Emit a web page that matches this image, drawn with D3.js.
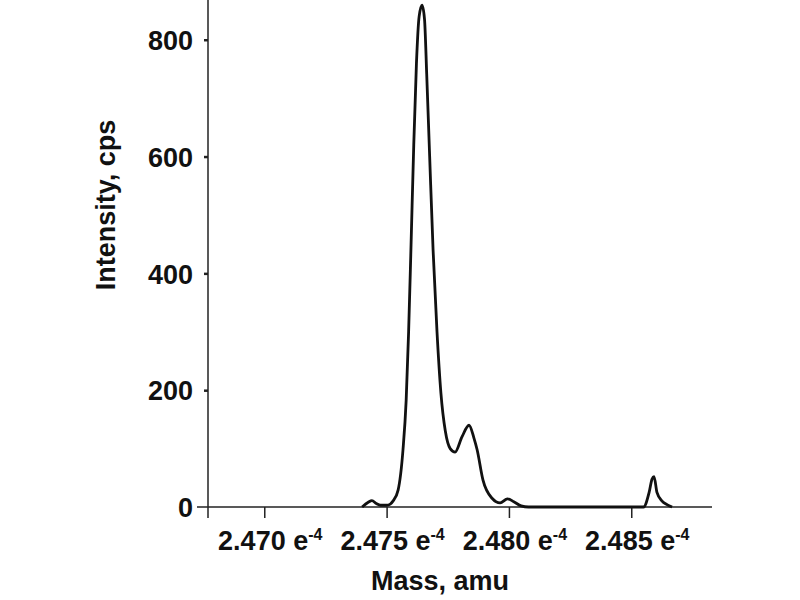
<!DOCTYPE html>
<html>
<head>
<meta charset="utf-8">
<script src="https://cdn.jsdelivr.net/npm/d3@7"></script>
<style>
  body { margin: 0; background: #fff; }
  text { font-family: "Liberation Sans", Arial, sans-serif; font-weight: bold; fill: #111; }
</style>
</head>
<body>
<div id="canvas"></div>
<script>
// mass values in units of e-4 amu, intensity in cps
var mass = [2.4740, 2.47425, 2.47440, 2.47458, 2.47475, 2.47500, 2.47515, 2.47526,
  2.47547, 2.47567, 2.47580, 2.47590, 2.47600, 2.47611, 2.47622, 2.47633, 2.47645,
  2.47655, 2.47664, 2.47676, 2.47690, 2.47706, 2.47722, 2.47740, 2.47760, 2.47780,
  2.47808, 2.47837, 2.47857, 2.47870, 2.47894, 2.47931, 2.47964, 2.47994, 2.48020,
  2.48050, 2.48080, 2.48550, 2.48573, 2.48585, 2.48593, 2.48605, 2.48626, 2.48646,
  2.48667];
var intensity = [0, 8, 11, 6, 3, 3, 5, 10,
  29, 98, 183, 300, 450, 620, 760, 840, 859,
  835, 740, 600, 440, 300, 195, 130, 100, 94,
  120, 140, 118, 98, 46, 15, 7, 14, 9,
  2, 0, 0, 25, 48, 52, 25, 10, 4,
  0];
var xTicks = [2.470, 2.475, 2.480, 2.485];
var yTicks = [0, 200, 400, 600, 800];

var w = 800, h = 600;
var paper = d3.select("#canvas").append("svg")
  .attr("width", w).attr("height", h);

var x = d3.scaleLinear().domain([2.4677, 2.4883]).range([208, 712]);
var y = d3.scaleLinear().domain([0, 868]).range([507, 0]);

var points = mass.map(function (m, i) { return [m, intensity[i]]; });

// axes lines
paper.append("line")
  .attr("x1", 197).attr("x2", x.range()[1])
  .attr("y1", y(0)).attr("y2", y(0))
  .style("stroke", "#222").style("stroke-width", 1.5);
paper.append("line")
  .attr("x1", x.range()[0]).attr("x2", x.range()[0])
  .attr("y1", 0).attr("y2", y(0) + 11)
  .style("stroke", "#222").style("stroke-width", 1.5);

// y ticks
var yAxis = paper.append("g")
  .attr("transform", "translate(" + x.range()[0] + ",0)")
  .call(d3.axisLeft(y).tickValues(yTicks).tickSize(4).tickPadding(11));
yAxis.select(".domain").remove();
yAxis.selectAll(".tick line").style("stroke", "#222").style("stroke-width", 2.5)
  .attr("display", function (d) { return d === 0 ? "none" : null; });
yAxis.selectAll(".tick text")
  .style("font-size", "27px").style("font-family", "Liberation Sans, Arial, sans-serif")
  .style("font-weight", "bold").style("fill", "#111")
  .attr("dy", "0.36em");

// x ticks
var xAxis = paper.append("g")
  .attr("transform", "translate(0," + y(0) + ")")
  .call(d3.axisBottom(x).tickValues(xTicks).tickSize(11).tickFormat(""));
xAxis.select(".domain").remove();
xAxis.selectAll(".tick line").style("stroke", "#222").style("stroke-width", 1.5);

paper.selectAll(".xlab")
  .data(xTicks)
  .enter().append("text")
  .attr("class", "xlab")
  .attr("x", function (d) { return x(d) + 6; })
  .attr("y", 550)
  .attr("text-anchor", "middle")
  .style("font-size", "27px")
  .each(function (d) {
    var t = d3.select(this);
    t.append("tspan").text(d3.format(".3f")(d) + " e");
    t.append("tspan").attr("dy", -10).style("font-size", "16px").text("-4");
  });

// labels
paper.append("text")
  .attr("x", 440).attr("y", 590)
  .attr("text-anchor", "middle")
  .style("font-size", "27px")
  .text("Mass, amu");

paper.append("text")
  .attr("transform", "translate(115,205) rotate(-90)")
  .attr("text-anchor", "middle")
  .style("font-size", "27px")
  .text("Intensity, cps");

// spectrum
var line = d3.line()
  .x(function (d) { return x(d[0]); })
  .y(function (d) { return y(d[1]); })
  .curve(d3.curveMonotoneX);

paper.append("path")
  .datum(points)
  .attr("d", line)
  .style("fill", "none")
  .style("stroke", "#111")
  .style("stroke-width", 2.8)
  .style("stroke-linejoin", "round");
</script>
</body>
</html>
